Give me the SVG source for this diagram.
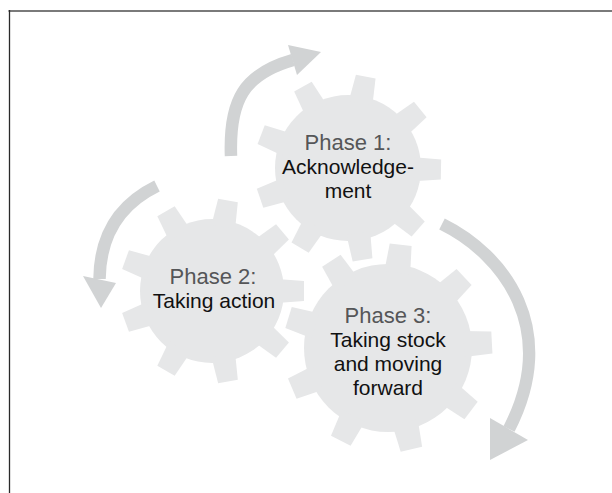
<svg xmlns="http://www.w3.org/2000/svg" xmlns:xlink="http://www.w3.org/1999/xlink" width="612" height="493" viewBox="0 0 612 493">
  <style>
    .body { fill: #e6e7e8; }
    .arrow { fill: none; stroke: #d1d3d4; stroke-width: 12.5; stroke-linecap: butt; }
    .head { fill: #d1d3d4; }
    .txt { font-family: "Liberation Sans", Arial, sans-serif; text-anchor: middle; }
    .phase { font-size: 22px; fill: #555658; }
    .label { font-size: 21px; fill: #111111; }
  </style>
  <defs>
    <path id="toothA" class="body" d="M-12,-66 L-10,-93 L10,-93 L12,-66 Z"/>
    <path id="toothB" class="body" d="M-12,-65 L-10,-92 L10,-92 L12,-65 Z"/>
    <path id="toothC" class="body" d="M-13,-76 L-11,-104 L11,-104 L13,-76 Z"/>
  </defs>
  <rect x="0" y="0" width="612" height="493" fill="#ffffff"/>
  <g id="frame">
    <line x1="8.5" y1="11" x2="612" y2="11" stroke="#7a7a7a" stroke-width="1.8"/>
    <line x1="9.5" y1="10" x2="9.5" y2="493" stroke="#2a2a2a" stroke-width="1.3"/>
  </g>

  <g id="gear1">
    <g transform="translate(348,168)">
      <circle class="body" r="73"/>
      <use xlink:href="#toothA" transform="rotate(11)"/>
      <use xlink:href="#toothA" transform="rotate(51)"/>
      <use xlink:href="#toothA" transform="rotate(91)"/>
      <use xlink:href="#toothA" transform="rotate(131)"/>
      <use xlink:href="#toothA" transform="rotate(171)"/>
      <use xlink:href="#toothA" transform="rotate(211)"/>
      <use xlink:href="#toothA" transform="rotate(251)"/>
      <use xlink:href="#toothA" transform="rotate(291)"/>
      <use xlink:href="#toothA" transform="rotate(331)"/>
    </g>
  </g>
  <g id="gear2">
    <g transform="translate(212,291)">
      <circle class="body" r="72"/>
      <use xlink:href="#toothB" transform="rotate(10)"/>
      <use xlink:href="#toothB" transform="rotate(50)"/>
      <use xlink:href="#toothB" transform="rotate(90)"/>
      <use xlink:href="#toothB" transform="rotate(130)"/>
      <use xlink:href="#toothB" transform="rotate(170)"/>
      <use xlink:href="#toothB" transform="rotate(210)"/>
      <use xlink:href="#toothB" transform="rotate(250)"/>
      <use xlink:href="#toothB" transform="rotate(290)"/>
      <use xlink:href="#toothB" transform="rotate(330)"/>
    </g>
  </g>
  <g id="gear3">
    <g transform="translate(388,348)">
      <circle class="body" r="84"/>
      <use xlink:href="#toothC" transform="rotate(7)"/>
      <use xlink:href="#toothC" transform="rotate(47)"/>
      <use xlink:href="#toothC" transform="rotate(87)"/>
      <use xlink:href="#toothC" transform="rotate(127)"/>
      <use xlink:href="#toothC" transform="rotate(167)"/>
      <use xlink:href="#toothC" transform="rotate(207)"/>
      <use xlink:href="#toothC" transform="rotate(247)"/>
      <use xlink:href="#toothC" transform="rotate(287)"/>
      <use xlink:href="#toothC" transform="rotate(327)"/>
    </g>
  </g>

  <g id="labels">
    <text class="txt" x="348" y="150"><tspan class="phase" x="348" y="150">Phase 1:</tspan><tspan class="label" x="348" y="174">Acknowledge-</tspan><tspan class="label" x="348" y="198">ment</tspan></text>
    <text class="txt" x="213" y="284"><tspan class="phase" x="213" y="284">Phase 2:</tspan><tspan class="label" x="214" y="308">Taking action</tspan></text>
    <text class="txt" x="388" y="323"><tspan class="phase" x="388" y="323">Phase 3:</tspan><tspan class="label" x="388" y="347">Taking stock</tspan><tspan class="label" x="388" y="371">and moving</tspan><tspan class="label" x="388" y="395">forward</tspan></text>
  </g>

  <g id="connectors">
    <path class="arrow" d="M231,156 C229,100 244,74 293,60"/>
    <polygon class="head" points="288,45 321,52 297,75"/>
    <path class="arrow" d="M157,186 C120,204 100,235 99.5,279"/>
    <polygon class="head" points="83,276 116,283 101,308"/>
    <path class="arrow" d="M442,224 C505,255 560,330 509,429"/>
    <polygon class="head" points="490,418 528,440 490,460"/>
  </g>
</svg>
